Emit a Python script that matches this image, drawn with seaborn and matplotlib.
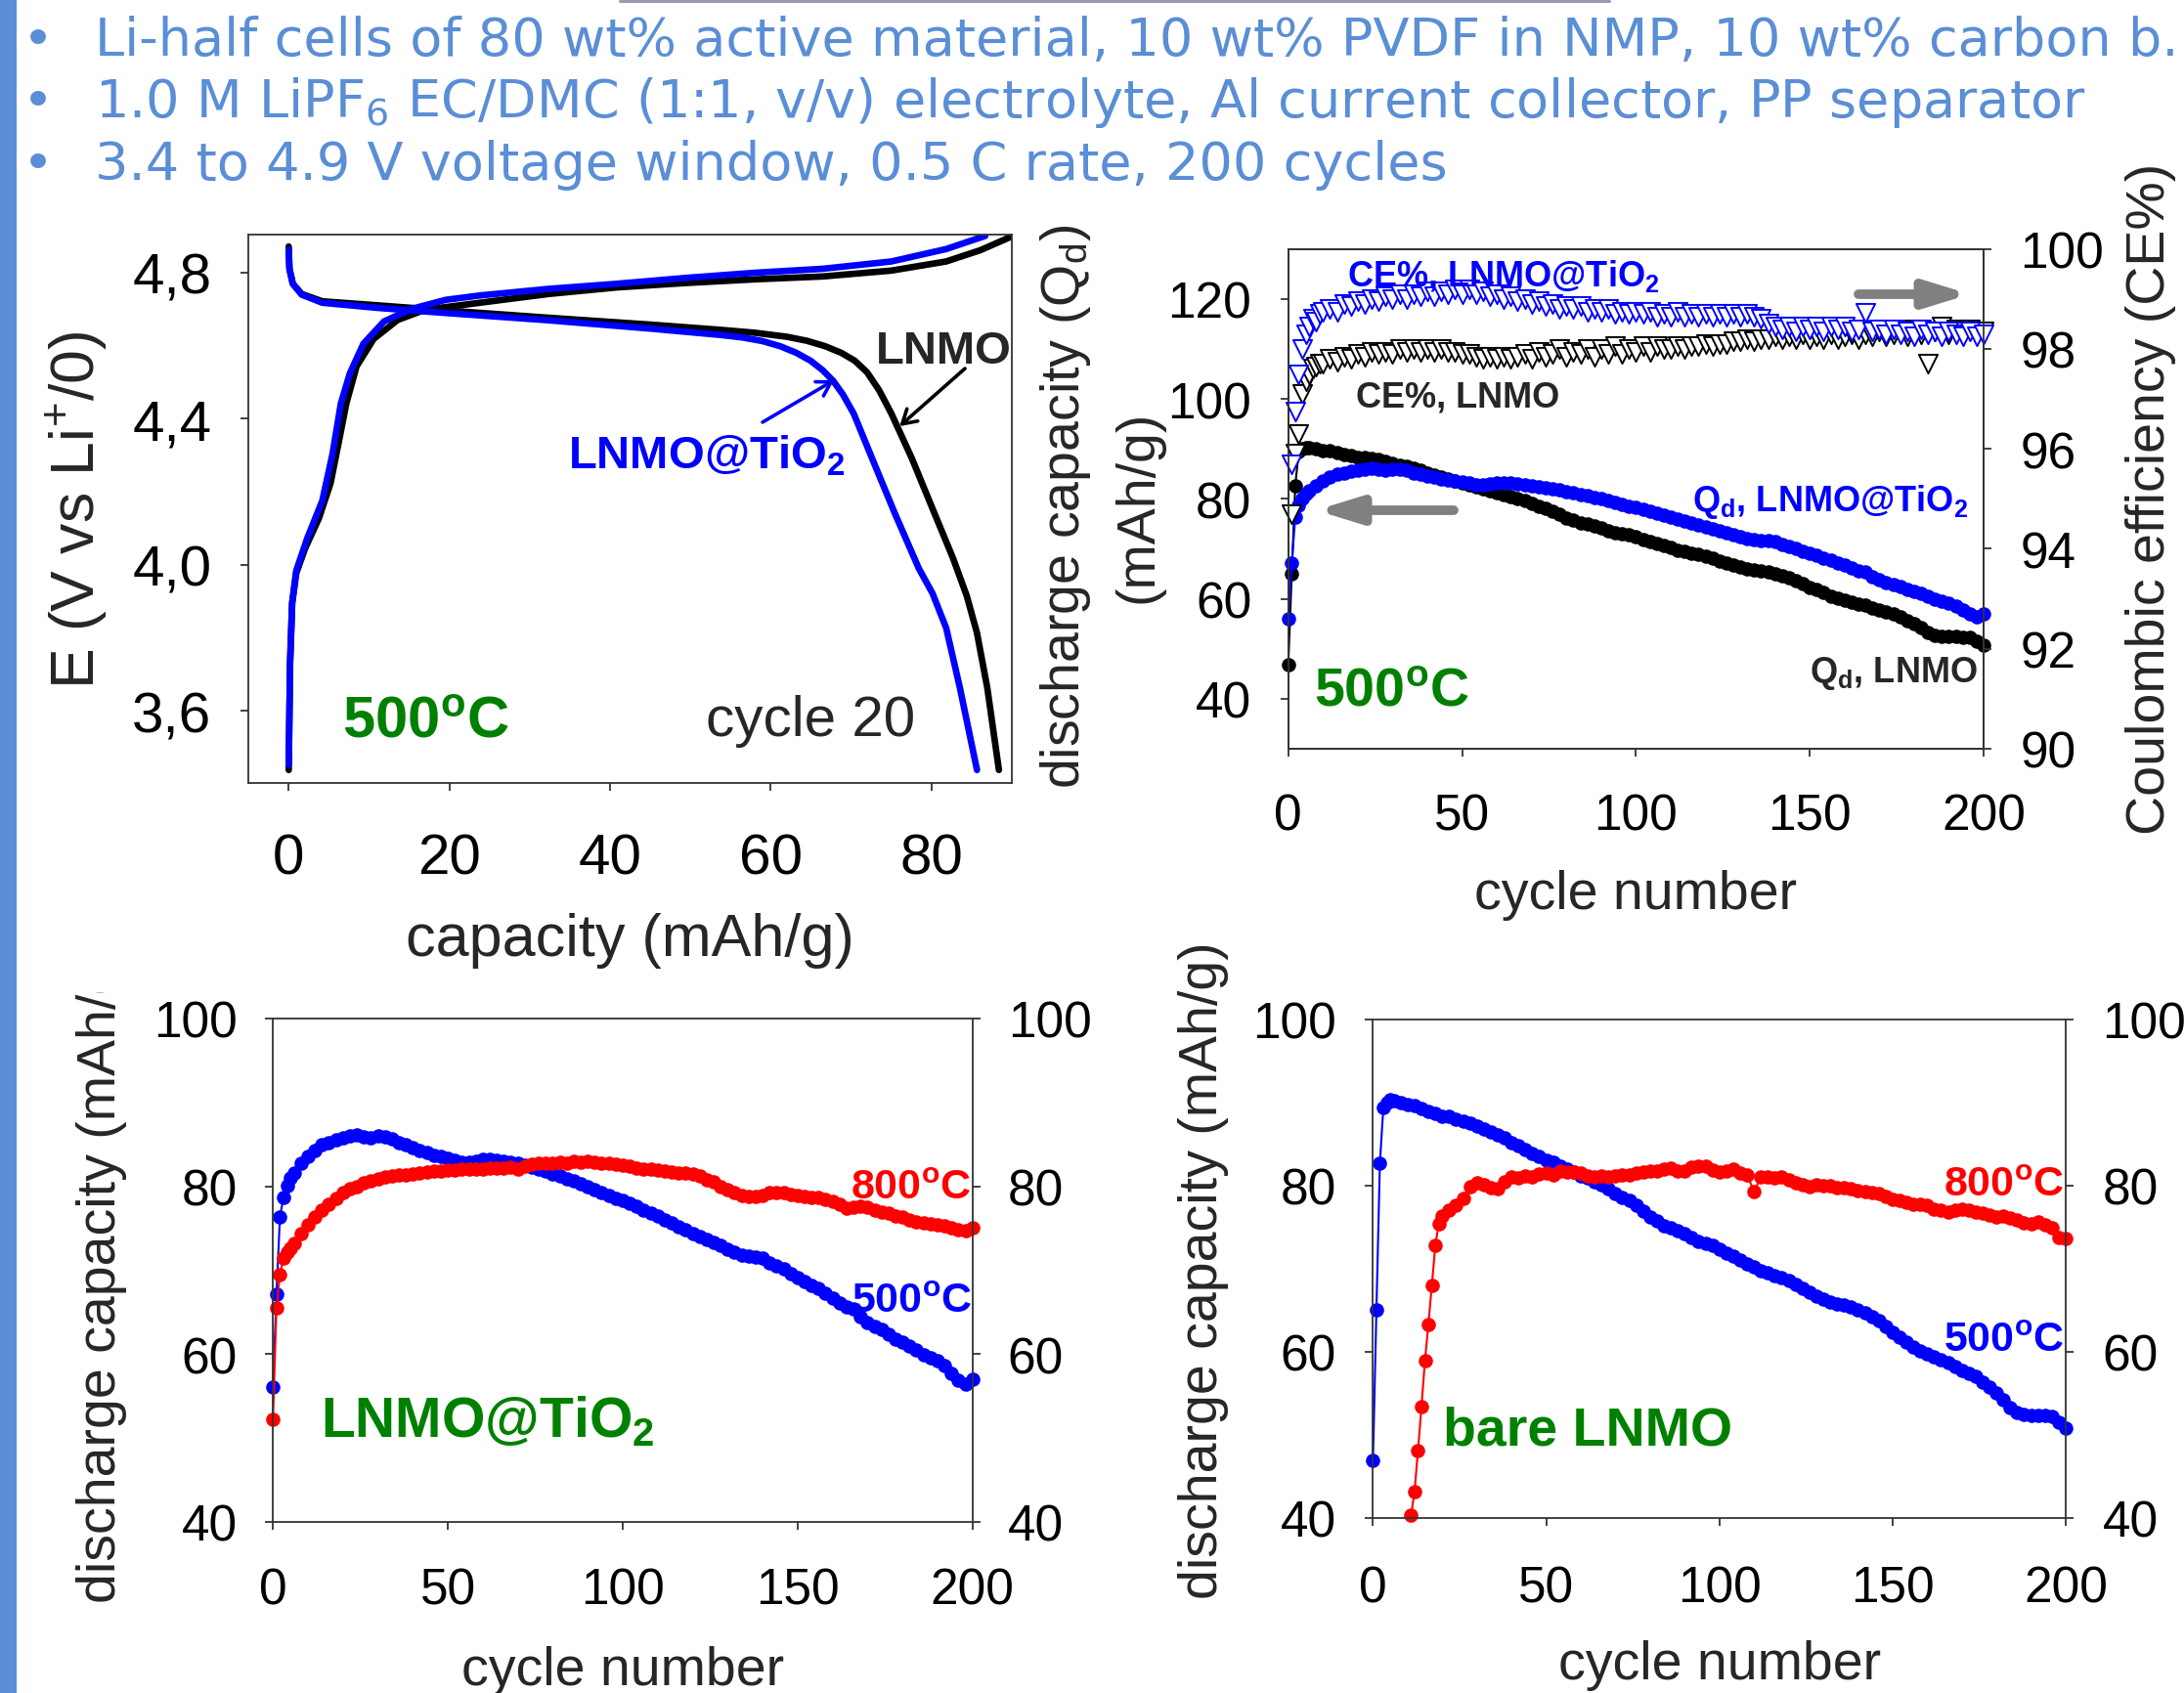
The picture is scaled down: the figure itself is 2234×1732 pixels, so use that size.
import seaborn as sns
import matplotlib.pyplot as plt
from matplotlib.patches import Rectangle, FancyArrowPatch
from matplotlib.lines import Line2D
from matplotlib.transforms import Affine2D, Bbox

# ---------------- data ----------------
# panel A: cycle 20 charge / discharge profiles (capacity mAh/g, voltage V)
lnmo_chg_cap = [0, 0.17, 0.43, 0.94, 2.05, 3.76, 5.21, 6.32, 7.17, 8.45, 10.58, 13.57,
                16.99, 23.82, 32.35, 40.89, 49.42, 57.96, 66.5, 75.03, 81.86, 86.13, 89.97]
lnmo_chg_v = [3.438, 3.731, 3.895, 3.977, 4.045, 4.127, 4.223, 4.345, 4.441, 4.543, 4.618, 4.670,
              4.698, 4.717, 4.741, 4.759, 4.771, 4.781, 4.789, 4.805, 4.830, 4.861, 4.898]
lnmo_dis_cap = [0, 0.09, 0.51, 1.62, 4.18, 11.01, 19.55, 32.35, 45.16, 53.69, 58.0, 62.0,
                64.5, 66.8, 68.8, 70.5, 72.0, 73.5, 75.03, 77.59, 80.15, 82.71, 84.42,
                85.7, 86.98, 88.43]
lnmo_dis_v = [4.871, 4.810, 4.769, 4.741, 4.721, 4.710, 4.696, 4.676, 4.657, 4.643, 4.635, 4.624,
              4.613, 4.598, 4.580, 4.558, 4.527, 4.478, 4.414, 4.291, 4.154, 4.018, 3.915,
              3.813, 3.663, 3.438]
tio2_chg_cap = [0, 0.17, 0.43, 0.94, 2.3, 4.18, 5.46, 6.49, 7.6, 9.3, 11.87, 15.28,
                19.55, 23.82, 32.35, 40.89, 49.42, 57.96, 66.5, 75.03, 81.86, 86.73]
tio2_chg_v = [3.452, 3.731, 3.895, 3.984, 4.072, 4.175, 4.304, 4.441, 4.523, 4.605, 4.666, 4.700,
              4.725, 4.737, 4.755, 4.769, 4.785, 4.799, 4.810, 4.830, 4.864, 4.900]
tio2_dis_cap = [0, 0.09, 0.51, 1.62, 4.18, 11.01, 19.55, 32.35, 45.16, 53.69, 56.5, 59.0,
                61.2, 63.2, 65.0, 66.5, 67.8, 69.0, 70.34, 72.9, 75.46, 78.45, 80.15,
                81.86, 83.57, 85.7]
tio2_dis_v = [4.862, 4.810, 4.769, 4.739, 4.717, 4.703, 4.689, 4.669, 4.646, 4.629, 4.622, 4.612,
              4.598, 4.580, 4.558, 4.532, 4.503, 4.466, 4.414, 4.277, 4.141, 3.990, 3.922,
              3.827, 3.663, 3.438]
a_volt_ticks = [3.6, 4.0, 4.4, 4.8]
a_volt_labels = ["3,6", "4,0", "4,4", "4,8"]
a_cap_ticks = [0, 20, 40, 60, 80]

# discharge capacity vs cycle (mAh/g)
cyc = [0, 1, 2, 3, 4, 5, 6] + list(range(8, 201, 2))
tio2_500 = [56.1, 67.1, 76.3, 78.7, 80.1, 81.0, 81.6, 82.7, 83.5, 84.3,
            84.9, 85.2, 85.5, 85.8, 86.0, 86.1, 85.9, 85.8, 86.0, 85.9,
            85.7, 85.2, 84.9, 84.6, 84.3, 84.0, 83.7, 83.5, 83.3, 83.1,
            82.9, 82.9, 83.0, 83.2, 83.2, 83.1, 83.0, 82.9, 82.7, 82.5,
            82.3, 82.0, 81.8, 81.5, 81.2, 80.9, 80.6, 80.3, 80.0, 79.6,
            79.3, 78.9, 78.6, 78.3, 78.0, 77.6, 77.2, 76.8, 76.4, 76.0,
            75.6, 75.2, 74.8, 74.4, 74.0, 73.6, 73.3, 72.9, 72.5, 72.1,
            71.8, 71.7, 71.6, 71.4, 70.9, 70.5, 70.1, 69.6, 69.1, 68.7,
            68.2, 67.8, 67.2, 66.7, 66.1, 65.6, 65.4, 64.4, 63.8, 63.3,
            62.9, 62.4, 61.8, 61.4, 61.0, 60.5, 59.9, 59.6, 59.2, 58.6,
            57.7, 56.9, 56.4, 57.0]
bare_500 = [46.9, 65.1, 82.7, 89.4, 90.0, 90.3, 90.2, 90.0, 89.7, 89.6,
            89.3, 88.9, 88.7, 88.3, 88.3, 88.0, 87.8, 87.5, 87.2, 86.8,
            86.5, 86.1, 85.7, 85.2, 84.8, 84.3, 83.9, 83.5, 83.1, 82.8,
            82.4, 82.0, 81.6, 81.2, 80.9, 80.5, 80.1, 79.6, 79.1, 78.6,
            78.2, 77.6, 76.9, 76.2, 75.8, 75.2, 74.9, 74.6, 74.2, 73.7,
            73.3, 73.0, 72.8, 72.4, 71.9, 71.5, 71.1, 70.6, 70.2, 69.8,
            69.5, 69.2, 68.9, 68.6, 68.1, 67.6, 67.2, 66.7, 66.3, 66.0,
            65.7, 65.6, 65.4, 65.1, 64.7, 64.2, 63.7, 63.0, 62.3, 61.8,
            61.2, 60.6, 60.1, 59.8, 59.4, 59.0, 58.7, 58.2, 57.8, 57.4,
            57.0, 56.4, 55.7, 55.0, 54.2, 53.3, 52.7, 52.5, 52.4, 52.4,
            52.3, 52.2, 51.5, 50.8]
tio2_800 = [52.2, 65.5, 69.5, 71.4, 72.1, 72.6, 73.2, 74.3, 75.4, 76.3,
            77.1, 77.9, 78.6, 79.3, 79.7, 80.0, 80.4, 80.7, 80.9, 81.1,
            81.2, 81.3, 81.4, 81.5, 81.6, 81.7, 81.8, 81.8, 81.9, 81.9,
            82.0, 82.0, 82.1, 82.1, 82.2, 82.2, 82.2, 82.3, 82.0, 82.4,
            82.6, 82.7, 82.8, 82.8, 82.9, 82.8, 83.0, 82.9, 83.0, 82.9,
            82.8, 82.7, 82.6, 82.5, 82.4, 82.2, 82.1, 82.0, 81.9, 81.8,
            81.7, 81.6, 81.6, 81.5, 81.2, 80.8, 80.5, 80.0, 79.6, 79.2,
            78.9, 78.8, 78.8, 78.9, 79.2, 79.3, 79.2, 79.0, 78.9, 78.8,
            78.7, 78.7, 78.4, 78.2, 77.8, 77.4, 77.5, 77.6, 77.5, 77.2,
            76.9, 76.8, 76.5, 76.3, 76.0, 75.8, 75.6, 75.5, 75.4, 75.3,
            75.0, 74.8, 74.7, 75.0]
bare_800_cyc = list(range(11, 21)) + list(range(22, 201, 2))
bare_800 = [40.3, 43.2, 48.1, 53.4, 58.9, 63.3, 68.0, 72.8, 75.4, 76.4,
            77.0, 77.6, 78.5, 79.9, 80.3, 80.1, 79.7, 79.6, 80.5, 81.0,
            80.9, 81.2, 81.0, 81.4, 81.5, 81.3, 81.7, 81.6, 81.6, 81.5,
            81.2, 81.1, 81.2, 81.1, 81.2, 81.3, 81.3, 81.5, 81.6, 81.8,
            81.7, 82.0, 82.1, 81.7, 81.8, 82.2, 82.4, 82.3, 81.9, 81.6,
            81.8, 82.0, 81.5, 81.3, 79.3, 81.0, 81.1, 80.9, 81.0, 80.7,
            80.4, 80.1, 79.9, 80.1, 80.0, 80.0, 79.8, 79.7, 79.6, 79.4,
            79.3, 79.2, 79.0, 78.7, 78.4, 78.2, 78.0, 77.8, 77.8, 77.6,
            77.2, 77.0, 76.8, 77.1, 77.2, 77.0, 76.8, 76.7, 76.5, 76.2,
            76.3, 76.1, 75.9, 75.5, 75.4, 75.6, 75.3, 74.9, 73.7, 73.6]

# coulombic efficiency (%)
ce_cyc = list(range(1, 11)) + list(range(12, 201, 2))
ce_tio2 = [95.7, 96.75, 97.5, 98.0, 98.3, 98.45, 98.6, 98.55, 98.7, 98.75,
           98.8, 98.75, 98.9, 98.85, 98.95, 98.9, 99.0, 98.95, 99.05, 99.0,
           99.1, 99.0, 99.1, 99.05, 99.15, 99.05, 99.15, 99.1, 99.2, 99.1,
           99.2, 99.1, 99.15, 99.05, 99.1, 99.0, 99.05, 98.95, 99.0, 98.9,
           98.95, 98.85, 98.9, 98.8, 98.85, 98.8, 98.85, 98.75, 98.8, 98.75,
           98.8, 98.7, 98.75, 98.7, 98.75, 98.7, 98.75, 98.65, 98.7, 98.65,
           98.75, 98.65, 98.7, 98.65, 98.7, 98.65, 98.7, 98.65, 98.7, 98.65,
           98.7, 98.65, 98.6, 98.5, 98.45, 98.4, 98.45, 98.35, 98.45, 98.4,
           98.45, 98.35, 98.45, 98.4, 98.45, 98.35, 98.4, 98.72, 98.35, 98.4,
           98.3, 98.4, 98.3, 98.35, 98.25, 98.4, 98.3, 98.35, 98.25, 98.35,
           98.3, 98.25, 98.35, 98.25, 98.3]
ce_bare = [94.7, 95.9, 96.3, 97.1, 97.35, 97.5, 97.6, 97.65, 97.7, 97.7,
           97.8, 97.75, 97.85, 97.8, 97.9, 97.85, 97.95, 97.9, 97.95, 97.9,
           98.0, 97.95, 98.0, 97.95, 98.0, 97.95, 98.0, 97.95, 97.95, 97.9,
           97.9, 97.85, 97.8, 97.85, 97.8, 97.85, 97.8, 97.85, 97.9, 97.8,
           97.95, 97.85, 97.9, 98.0, 97.85, 97.95, 97.9, 98.0, 97.85, 98.0,
           97.9, 98.05, 97.9, 98.0, 97.95, 98.05, 97.95, 98.05, 98.0, 98.0,
           98.05, 98.0, 98.05, 98.05, 98.1, 98.05, 98.1, 98.1, 98.15, 98.15,
           98.2, 98.15, 98.2, 98.2, 98.25, 98.2, 98.25, 98.2, 98.3, 98.2,
           98.25, 98.2, 98.3, 98.2, 98.25, 98.3, 98.2, 98.3, 98.25, 98.35,
           98.25, 98.3, 98.35, 98.25, 98.4, 98.3, 97.7, 98.35, 98.45, 98.3,
           98.4, 98.35, 98.4, 98.3, 98.35]

cycle_ticks = [0, 50, 100, 150, 200]
cap_ticks_b = [40, 60, 80, 100, 120]
ce_ticks = [90, 92, 94, 96, 98, 100]
cap_ticks_cd = [40, 60, 80, 100]

header = ["Li-half cells of 80 wt% active material, 10 wt% PVDF in NMP, 10 wt% carbon b.",
          "1.0 M LiPF$_6$ EC/DMC (1:1, v/v) electrolyte, Al current collector, PP separator",
          "3.4 to 4.9 V voltage window, 0.5 C rate, 200 cycles"]

# ---------------- style ----------------
W, H = 2234, 1733
sns.set_theme(style="ticks")
plt.rcParams["font.family"] = ["Liberation Sans", "DejaVu Sans"]
plt.rcParams["mathtext.default"] = "regular"
plt.rcParams["axes.linewidth"] = 1.3
plt.rcParams["axes.edgecolor"] = "#333333"

BLUE, RED, GREEN, SLIDE = "#0000ff", "#ff0000", "#008000", "#5a8ed6"

fig = plt.figure(figsize=(W / 100, H / 100), dpi=100)
PX = Affine2D().scale(1 / W, -1 / H).translate(0, 1) + fig.transFigure


def box(l, t, r, b):
    return fig.add_axes([l / W, 1 - b / H, (r - l) / W, (b - t) / H])


def put(x, y, s, **kw):
    kw.setdefault("ha", "left")
    kw.setdefault("va", "baseline")
    fig.text(x, y, s, transform=PX, **kw)


def ticks(ax, size, xpad, ypad, **kw):
    ax.tick_params(direction="out", length=6, width=1.3, color="#333333",
                   labelcolor="black", labelsize=size, **kw)
    ax.tick_params(axis="x", pad=xpad)
    ax.tick_params(axis="y", pad=ypad)


def cycling(ax, x, y, color):
    sns.lineplot(x=x, y=y, ax=ax, color=color, marker="o", markersize=10.5,
                 markeredgewidth=0, linewidth=1.5, clip_on=False,
                 sort=False, estimator=None)


# slide decorations
fig.add_artist(Rectangle((0, 0), 17 / W, 1, transform=fig.transFigure, color=SLIDE, lw=0))
fig.add_artist(Line2D([634, 1646], [1.5, 1.5], transform=PX, color="#9a9ab2", lw=2.2))
for i, line in enumerate(header):
    yb = 56.7 + 63.7 * i
    put(23, yb, "\u2022", fontsize=39, color=SLIDE, family="DejaVu Sans")
    put(97, yb, line, fontsize=39, color=SLIDE, family="DejaVu Sans")

# ---------------- panel A ----------------
axA = box(254, 241.4, 1034.7, 801.6)
line_kw = dict(linewidth=4.8, sort=False, estimator=None,
               solid_capstyle="round", solid_joinstyle="round")
sns.lineplot(x=lnmo_chg_cap, y=lnmo_chg_v, ax=axA, color="black", **line_kw)
sns.lineplot(x=lnmo_dis_cap, y=lnmo_dis_v, ax=axA, color="black", **line_kw)
sns.lineplot(x=tio2_chg_cap, y=tio2_chg_v, ax=axA, color=BLUE, **line_kw)
sns.lineplot(x=tio2_dis_cap, y=tio2_dis_v, ax=axA, color=BLUE, **line_kw)
axA.set_xlim(-5.03, 90)
axA.set_ylim(3.4036, 4.9025)
axA.set_xticks(a_cap_ticks)
axA.set_yticks(a_volt_ticks)
axA.set_yticklabels(a_volt_labels)
ticks(axA, 42, 31, 21)
axA.set_xlabel("capacity (mAh/g)", fontsize=44)
axA.xaxis.set_label_coords(644.4, 934, transform=PX)
axA.set_ylabel("E (V vs Li$^{+}$/0)", fontsize=45)
axA.yaxis.set_label_coords(112, 521.5, transform=PX)
axA.annotate("", xy=(76.06, 4.379), xytext=(84.2, 4.537),
             arrowprops=dict(arrowstyle="->,head_length=0.5,head_width=0.3",
                             color="black", lw=2.6, shrinkA=0, shrinkB=0, mutation_scale=20))
axA.annotate("", xy=(67.9, 4.505), xytext=(59.0, 4.390),
             arrowprops=dict(arrowstyle="->,head_length=0.5,head_width=0.3",
                             color=BLUE, lw=2.6, shrinkA=0, shrinkB=0, mutation_scale=20))
put(350, 755, "500$^{o}$C", fontsize=43, weight="bold", color=GREEN)
put(722, 753, "cycle 20", fontsize=42)
put(896, 372, "LNMO", fontsize=34, weight="bold")
put(581, 480, "LNMO@TiO$_{2}$", fontsize=34, weight="bold", color=BLUE)

# ---------------- panel B ----------------
axB = box(1317.8, 255.7, 2029, 767)
cycling(axB, cyc, bare_500, "black")
cycling(axB, cyc, tio2_500, BLUE)
axB.set_xlim(0, 200)
axB.set_ylim(30, 130)
axB.set_xticks(cycle_ticks)
axB.set_yticks(cap_ticks_b)
ticks(axB, 37, 26, 21)
axB2 = axB.twinx()
sns.scatterplot(x=ce_cyc, y=ce_bare, ax=axB2, marker="v", s=190, color="white",
                edgecolor="black", linewidth=1.4, clip_on=False, legend=False)
sns.scatterplot(x=ce_cyc, y=ce_tio2, ax=axB2, marker="v", s=190, color="white",
                edgecolor=BLUE, linewidth=1.4, clip_on=False, legend=False)
axB2.set_ylim(90, 100)
axB2.set_yticks(ce_ticks)
ticks(axB2, 37, 26, 21)
axB.set_xlabel("cycle number", fontsize=40)
axB.xaxis.set_label_coords(1673.4, 890, transform=PX)
axB.set_ylabel("discharge capacity (Q$_{d}$)\n(mAh/g)", fontsize=40, linespacing=1.5)
axB.yaxis.set_label_coords(1190, 518, transform=PX)
axB2.set_ylabel("Coulombic efficiency (CE%)", fontsize=40)
axB2.yaxis.set_label_coords(2174, 510, transform=PX)
for tail, head in [((1487, 523), (1346, 523)), ((1901, 302), (2015, 302))]:
    fig.add_artist(FancyArrowPatch(tail, head, transform=PX,
                                   arrowstyle="-|>,head_length=26,head_width=8",
                                   color="#808080", lw=7, joinstyle="round",
                                   capstyle="round", shrinkA=0, shrinkB=0))
put(1378, 293, "CE%, LNMO@TiO$_{2}$", fontsize=26, weight="bold", color=BLUE)
put(1387, 417, "CE%, LNMO", fontsize=26, weight="bold")
put(1731, 523, "Q$_{d}$, LNMO@TiO$_{2}$", fontsize=26, weight="bold", color=BLUE)
put(1851, 698, "Q$_{d}$, LNMO", fontsize=26, weight="bold")
put(1344, 723, "500$^{o}$C", fontsize=40, weight="bold", color=GREEN)

# ---------------- panel C ----------------
axC = box(279.2, 1042.9, 994.7, 1557.8)
cycling(axC, cyc, tio2_500, BLUE)
cycling(axC, cyc, tio2_800, RED)
axC.set_xlim(0, 200)
axC.set_ylim(40, 100)
axC.set_xticks(cycle_ticks)
axC.set_yticks(cap_ticks_cd)
ticks(axC, 37, 27, 20, right=True, labelright=True)
axC.set_xlabel("cycle number", fontsize=40)
axC.xaxis.set_label_coords(637, 1684, transform=PX)
axC.set_ylabel("discharge capacity (mAh/g)", fontsize=40)
axC.yaxis.set_label_coords(130, 1303.5, transform=PX)
lab = axC.yaxis.label
lab.set_clip_box(Bbox([[0, 0], [W, H - 1016]]))
lab.set_clip_on(True)
put(870, 1227, "800$^{o}$C", fontsize=31, weight="bold", color=RED)
put(871, 1343, "500$^{o}$C", fontsize=31, weight="bold", color=BLUE)
put(328, 1470, "LNMO@TiO$_{2}$", fontsize=41, weight="bold", color=GREEN)

# ---------------- panel D ----------------
axD = box(1404.4, 1043.9, 2113, 1553.9)
cycling(axD, cyc, bare_500, BLUE)
cycling(axD, bare_800_cyc, bare_800, RED)
axD.set_xlim(0, 200)
axD.set_ylim(40, 100)
axD.set_xticks(cycle_ticks)
axD.set_yticks(cap_ticks_cd)
ticks(axD, 37, 28, 21, right=True, labelright=True)
axD.set_xlabel("cycle number", fontsize=40)
axD.xaxis.set_label_coords(1758.7, 1678, transform=PX)
axD.set_ylabel("discharge capacity (mAh/g)", fontsize=40)
axD.yaxis.set_label_coords(1257, 1300, transform=PX)
put(1988, 1224, "800$^{o}$C", fontsize=31, weight="bold", color=RED)
put(1988, 1383, "500$^{o}$C", fontsize=31, weight="bold", color=BLUE)
put(1476, 1479, "bare LNMO", fontsize=40, weight="bold", color=GREEN)

fig.savefig("out.png", dpi=100)
